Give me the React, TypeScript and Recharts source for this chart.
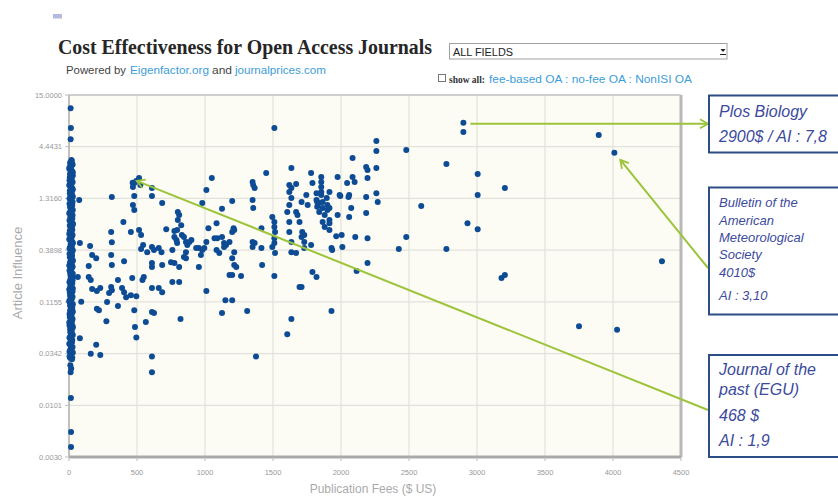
import {
  ScatterChart,
  Scatter,
  XAxis,
  YAxis,
  CartesianGrid,
  ReferenceLine,
} from 'recharts';

const SANS = '"Liberation Sans", Arial, sans-serif';
const SERIF = '"Liberation Serif", "Times New Roman", serif';
const DOT = '#0d4c94';
const ARROW = '#9cc43a';
const NOTE = '#3b4a9c';
const NOTE_BORDER = '#2d4d86';
const LINK = '#3d9dd8';

const X_TICKS = [0, 500, 1000, 1500, 2000, 2500, 3000, 3500, 4000, 4500];
const Y_TICKS = [0.003, 0.0101, 0.0342, 0.1155, 0.3898, 1.316, 4.4431, 15];

// [publication fee $, article influence] -- journals charging nothing (or nearly)
const FREE_JOURNALS: [number, number][] = [
  [12, 11.0], [14, 6.9], [12, 5.3], [18, 3.25],
  [20, 3.2], [8, 3.05], [26, 2.9], [14, 2.78], [4, 2.62], [22, 2.5], [12, 2.38], [28, 2.26],
  [6, 2.15], [18, 2.06], [24, 1.96], [10, 1.87], [2, 1.79], [20, 1.7], [28, 1.62], [14, 1.55],
  [6, 1.48], [24, 1.41], [16, 1.34], [10, 1.28], [26, 1.22], [4, 1.16], [18, 1.1], [12, 1.05],
  [28, 1.0], [8, 0.955], [20, 0.91], [14, 0.865], [24, 0.825], [4, 0.785], [16, 0.75], [28, 0.712],
  [10, 0.68], [22, 0.645], [6, 0.615], [18, 0.585], [26, 0.555], [12, 0.53], [2, 0.505], [20, 0.48],
  [28, 0.458], [14, 0.435], [8, 0.415], [24, 0.395], [16, 0.376], [4, 0.358], [22, 0.34], [12, 0.324],
  [28, 0.308], [8, 0.293], [18, 0.279], [26, 0.266], [14, 0.253], [4, 0.241], [20, 0.229], [10, 0.218],
  [28, 0.207], [16, 0.197], [6, 0.188], [24, 0.179], [12, 0.17], [20, 0.162], [2, 0.154], [26, 0.147],
  [14, 0.14], [8, 0.133], [22, 0.127], [18, 0.121], [4, 0.115], [28, 0.109], [12, 0.104], [20, 0.099],
  [8, 0.094], [24, 0.09], [16, 0.085], [6, 0.081], [26, 0.077], [12, 0.073], [20, 0.07], [4, 0.066],
  [28, 0.063], [16, 0.06], [10, 0.057], [22, 0.054], [14, 0.052], [6, 0.049], [24, 0.047], [18, 0.044],
  [10, 0.042], [26, 0.04], [14, 0.038], [4, 0.036], [20, 0.0345], [12, 0.033], [8, 0.031], [22, 0.03],
  [10, 0.026], [16, 0.024], [12, 0.022], [14, 0.012], [15, 0.0054], [15, 0.0038],
];

// more zero-fee journals; together with the list above they form the solid bar at $0
const FREE_JOURNALS_2: [number, number][] = [
  [16, 3.12], [24, 2.98], [10, 2.84], [2, 2.7], [18, 2.56], [28, 2.44], [8, 2.32], [22, 2.2],
  [14, 2.1], [4, 2.01], [26, 1.92], [16, 1.83], [10, 1.75], [24, 1.66], [6, 1.58], [20, 1.51],
  [12, 1.44], [28, 1.37], [4, 1.31], [18, 1.25], [14, 1.19], [24, 1.13], [8, 1.075], [22, 1.025],
  [16, 0.975], [2, 0.93], [26, 0.885], [10, 0.845], [20, 0.805], [12, 0.768], [28, 0.73], [6, 0.695],
  [16, 0.66], [24, 0.63], [10, 0.6], [2, 0.57], [22, 0.542], [16, 0.518], [8, 0.492], [26, 0.468],
  [12, 0.446], [20, 0.425], [4, 0.405], [28, 0.386], [14, 0.367], [22, 0.35], [6, 0.332], [18, 0.316],
  [26, 0.3], [10, 0.286], [2, 0.272], [24, 0.26], [16, 0.247], [8, 0.235], [28, 0.224], [20, 0.213],
  [12, 0.202], [26, 0.192], [4, 0.183], [18, 0.174], [10, 0.166], [28, 0.158], [22, 0.15], [6, 0.143],
  [16, 0.136], [26, 0.13], [12, 0.124], [2, 0.118], [20, 0.112], [8, 0.106], [24, 0.101], [14, 0.096],
  [28, 0.092], [4, 0.087], [18, 0.083], [10, 0.079], [22, 0.075], [2, 0.071], [16, 0.068], [26, 0.065],
  [8, 0.061], [20, 0.058], [12, 0.055], [28, 0.053], [4, 0.05], [16, 0.048], [22, 0.045], [2, 0.043],
  [12, 0.041], [20, 0.039], [8, 0.037], [28, 0.035], [16, 0.034], [4, 0.032], [24, 0.031],
];

// fee-based journals
const PAID_JOURNALS: [number, number][] = [
  [75, 1.27], [80, 0.46], [155, 0.43], [170, 0.347], [200, 0.323], [145, 0.268], [65, 0.207],
  [145, 0.207], [160, 0.193], [170, 0.156], [205, 0.149], [230, 0.16], [90, 0.116], [205, 0.098],
  [220, 0.095], [275, 0.073], [280, 0.115], [295, 0.142], [310, 0.164], [315, 0.152], [200, 0.042],
  [160, 0.034], [230, 0.033], [80, 0.049], [310, 0.596], [315, 0.47], [310, 0.347], [315, 0.274],
  [315, 1.36], [360, 0.193], [360, 0.105], [400, 0.754], [405, 0.301], [390, 0.16], [405, 0.145],
  [420, 0.129], [455, 0.135], [495, 0.132], [465, 0.202], [480, 0.095], [485, 0.064], [495, 0.05],
  [470, 1.72], [480, 1.89], [495, 1.98], [515, 2.13], [525, 1.8], [480, 1.39], [470, 1.13], [480, 1.0],
  [610, 1.68], [610, 1.39], [685, 1.18], [455, 0.596], [515, 0.625], [530, 0.555], [545, 0.439],
  [530, 0.4], [575, 0.372], [550, 0.207], [540, 0.193], [565, 0.072], [610, 0.419], [625, 0.39],
  [660, 0.409], [680, 0.372], [610, 0.288], [610, 0.262], [610, 0.16], [660, 0.16], [685, 0.145],
  [610, 0.091], [625, 0.089], [610, 0.032], [610, 0.022], [685, 0.274], [715, 0.639],
  [760, 0.39], [775, 0.61], [795, 0.625], [800, 0.79], [810, 0.889], [800, 0.954], [825, 0.702],
  [830, 0.555], [845, 0.53], [860, 0.471], [870, 0.439], [885, 0.471], [900, 0.494], [775, 0.53],
  [790, 0.494], [795, 0.46], [860, 0.372], [845, 0.331], [750, 0.294], [775, 0.288], [760, 0.184],
  [810, 0.184], [810, 0.262], [860, 0.323], [820, 0.077], [935, 0.409], [955, 0.409], [980, 0.39],
  [995, 0.409], [1010, 0.471], [1025, 0.654], [980, 1.18], [1010, 1.6], [1050, 2.13], [955, 0.262],
  [970, 0.347], [1010, 0.149],
  [1085, 0.736], [1070, 0.517], [1090, 0.517], [1125, 0.53], [1140, 0.46], [1155, 0.439], [1180, 0.471],
  [1200, 0.596], [1210, 0.654], [1125, 1.03], [1200, 1.24], [1215, 0.372], [1085, 0.39], [1105, 0.364],
  [1125, 0.089], [1150, 0.12], [1200, 0.12], [1180, 0.217], [1200, 0.217], [1265, 0.212], [1200, 0.323],
  [1215, 0.274], [1230, 0.262], [1140, 0.419], [1215, 0.625],
  [1310, 0.093], [1350, 1.94], [1355, 1.8], [1365, 1.68], [1350, 1.27], [1355, 1.05], [1350, 0.471],
  [1365, 0.46], [1350, 0.419], [1415, 0.654], [1415, 0.409], [1420, 0.274], [1450, 2.39], [1510, 6.9],
  [1495, 0.848], [1510, 0.754], [1510, 0.67], [1515, 0.596], [1510, 0.517], [1510, 0.46], [1515, 0.364],
  [1495, 0.419], [1510, 0.212], [1375, 0.032],
  [1620, 1.8], [1635, 1.68], [1620, 1.53], [1635, 2.69], [1670, 1.85], [1605, 0.954], [1620, 1.13],
  [1620, 0.754], [1620, 0.596], [1635, 0.471], [1635, 0.372], [1635, 1.33], [1670, 0.954], [1680, 0.889],
  [1695, 0.754], [1715, 0.596], [1730, 0.555], [1730, 0.471], [1710, 1.21], [1745, 1.43], [1755, 1.13],
  [1710, 0.53], [1730, 0.409], [1635, 0.077], [1670, 0.364], [1695, 0.164], [1710, 0.164], [1605, 0.054],
  [1780, 2.39], [1790, 1.89], [1855, 2.18], [1855, 1.94], [1855, 1.72], [1855, 1.53], [1855, 1.43],
  [1865, 1.21], [1865, 1.05], [1880, 0.889], [1865, 0.754], [1880, 0.67], [1820, 1.49], [1825, 1.21],
  [1840, 1.18], [1820, 1.27], [1825, 1.08], [1840, 0.954], [1895, 1.33], [1900, 1.13], [1900, 1.0],
  [1915, 1.53], [1915, 1.05], [1915, 0.79], [1915, 0.625], [1915, 0.736], [1965, 0.542], [1930, 0.409],
  [1790, 0.233], [1820, 0.207], [1780, 0.439], [1930, 0.093], [1935, 0.39], [1975, 2.18], [1975, 0.889],
  [1990, 1.43], [2005, 0.555], [2010, 0.419], [2045, 1.89], [2060, 1.43], [2075, 1.05], [2085, 3.4],
  [2085, 2.18], [2100, 1.94], [2105, 0.53], [1995, 1.39], [2055, 1.36], [2060, 0.848], [2115, 0.239],
  [2185, 2.76], [2195, 2.57], [2260, 2.69], [2195, 2.13], [2185, 1.36], [2260, 1.49], [2270, 1.21],
  [2185, 0.932], [2195, 0.517], [2195, 0.288], [2260, 5.08], [2260, 4.02], [2480, 4.11], [2775, 2.96],
  [3005, 2.34], [3005, 1.43], [3205, 1.68], [2590, 1.1], [2930, 0.736], [3005, 0.639], [2480, 0.53],
  [2425, 0.4], [2775, 0.4], [3180, 0.202], [3205, 0.217], [2900, 6.28], [3895, 5.85], [4360, 0.301],
  [3750, 0.065], [4030, 0.06],
];

// the three journals called out on the right
const PLOS = { fee: 2900, ai: 7.8 };
const BAMS = { fee: 4010, ai: 3.85 };
const PAST = { fee: 468, ai: 1.9 };

const PLOT = { left: 69, top: 95, right: 681, bottom: 457 };

const xPx = (fee: number) => PLOT.left + (fee / 4500) * (PLOT.right - PLOT.left);
const yPx = (ai: number) =>
  PLOT.top + (Math.log(15 / ai) / Math.log(15 / 0.003)) * (PLOT.bottom - PLOT.top);

const toPoints = (rows: [number, number][]) => rows.map(([fee, ai]) => ({ fee, ai }));

const renderDot = (props: any) => <circle cx={props.cx} cy={props.cy} r={3} fill={DOT} />;

function NoteBox({ x, y, h, lines, size, gap, first }: {
  x: number; y: number; h: number; lines: string[]; size: number; gap: number[]; first: number;
}) {
  return (
    <g>
      <rect x={x} y={y} width={150} height={h} fill="#fff" stroke={NOTE_BORDER} strokeWidth={2} />
      {lines.map((l, i) => (
        <text key={i} x={x + 10} y={y + first + (gap[i] || 0)} fontSize={size}
          fontStyle="italic" fill={NOTE} fontFamily={SANS}>
          {l}
        </text>
      ))}
    </g>
  );
}

export default function App() {
  const plosX = xPx(PLOS.fee), plosY = yPx(PLOS.ai);
  const bamsX = xPx(BAMS.fee), bamsY = yPx(BAMS.ai);
  const pastX = xPx(PAST.fee), pastY = yPx(PAST.ai);

  return (
    <div style={{ position: 'absolute', left: 0, top: 0, width: 838, height: 498, background: '#fff', overflow: 'hidden', fontFamily: SANS }}>
      <ScatterChart width={838} height={498} margin={{ top: 95, right: 157, bottom: 11, left: 9 }}>
        <CartesianGrid fill="#fdfcf4" stroke="#e2e2dc" strokeWidth={1.2} />
        <XAxis
          type="number"
          dataKey="fee"
          domain={[0, 4500]}
          ticks={X_TICKS}
          interval={0}
          height={30}
          tick={{ fontSize: 7.5, fill: '#999' }}
          tickSize={4}
          tickMargin={9}
          tickLine={{ stroke: '#bbb' }}
          axisLine={{ stroke: '#a9a9a9', strokeWidth: 3 }}
        />
        <YAxis
          type="number"
          dataKey="ai"
          scale="log"
          domain={[0.003, 15]}
          ticks={Y_TICKS}
          interval={0}
          width={60}
          tickFormatter={(v: number) => v.toFixed(4)}
          tick={{ fontSize: 7.5, fill: '#999' }}
          tickSize={4}
          tickMargin={3}
          tickLine={{ stroke: '#bbb' }}
          axisLine={{ stroke: '#b0b0b0', strokeWidth: 1.5 }}
        />
        <ReferenceLine x={4500} stroke="#b8b8b8" strokeWidth={3} />
        <ReferenceLine y={15} stroke="#c4c4c4" strokeWidth={1.5} />
        <Scatter data={toPoints(FREE_JOURNALS)} shape={renderDot} isAnimationActive={false} />
        <Scatter data={toPoints(FREE_JOURNALS_2)} shape={renderDot} isAnimationActive={false} />
        <Scatter data={toPoints(PAID_JOURNALS)} shape={renderDot} isAnimationActive={false} />
        <Scatter data={[PLOS, BAMS, PAST]} shape={renderDot} isAnimationActive={false} />
      </ScatterChart>

      <svg width={838} height={498} style={{ position: 'absolute', left: 0, top: 0, pointerEvents: 'none' }}>
        <defs>
          <marker id="openHead" markerUnits="userSpaceOnUse" markerWidth={12} markerHeight={12}
            refX={10} refY={6} orient="auto">
            <path d="M2,1.5 L10,6 L2,10.5" fill="none" stroke={ARROW} strokeWidth={1.8} />
          </marker>
        </defs>

        <rect x={53} y={14} width={9} height={4.5} fill="#b3bbe0" />

        <text x={58} y={54} fontFamily={SERIF} fontWeight="bold" fontSize={20} fill="#262626"
          textLength={374} lengthAdjust="spacingAndGlyphs">
          Cost Effectiveness for Open Access Journals
        </text>
        <text x={66} y={74} fontSize={11} fill="#444" textLength={60} lengthAdjust="spacingAndGlyphs">Powered by</text>
        <text x={130} y={74} fontSize={11} fill={LINK} textLength={79} lengthAdjust="spacingAndGlyphs">Eigenfactor.org</text>
        <text x={212} y={74} fontSize={11} fill="#444" textLength={20} lengthAdjust="spacingAndGlyphs">and</text>
        <text x={235} y={74} fontSize={11} fill={LINK} textLength={91} lengthAdjust="spacingAndGlyphs">journalprices.com</text>

        <rect x={449.5} y={43.5} width={277.5} height={15.5} fill="#fff" stroke="#a0a0a0" />
        <text x={453} y={55.5} fontSize={10} fill="#222" textLength={60} lengthAdjust="spacingAndGlyphs">ALL FIELDS</text>
        <path d="M720.5,49 L725.5,49 L723,52 Z" fill="#222" />
        <line x1={720} y1={54.5} x2={726} y2={54.5} stroke="#222" strokeWidth={1} />

        <rect x={438.5} y={74.5} width={7} height={7} fill="#fff" stroke="#777" />
        <text x={449} y={82.5} fontFamily={SERIF} fontWeight="bold" fontSize={10} fill="#333"
          textLength={36} lengthAdjust="spacingAndGlyphs">show all:</text>
        <text x={489} y={83} fontSize={10.5} fill={LINK} textLength={203} lengthAdjust="spacingAndGlyphs">
          fee-based OA : no-fee OA : NonISI OA
        </text>

        <text x={17} y={273} fontSize={13} fill="#aaa" textAnchor="middle" dominantBaseline="central"
          transform="rotate(-90 17 273)">Article Influence</text>
        <text x={373} y={493} fontSize={12} fill="#aaa" textAnchor="middle">Publication Fees ($ US)</text>

        <line x1={plosX + 7} y1={plosY + 1} x2={708} y2={plosY + 1} stroke={ARROW} strokeWidth={2} markerEnd="url(#openHead)" />
        <line x1={708} y1={268} x2={bamsX + 6} y2={bamsY + 7} stroke={ARROW} strokeWidth={2} markerEnd="url(#openHead)" />
        <line x1={708} y1={410} x2={pastX + 4} y2={pastY - 2} stroke={ARROW} strokeWidth={2} markerEnd="url(#openHead)" />

        <NoteBox x={709} y={95.5} h={57} size={16} first={21.5} gap={[0, 25]}
          lines={['Plos Biology', '2900$ / AI : 7,8']} />
        <NoteBox x={709} y={187.5} h={127} size={13} first={19.5} gap={[0, 17.5, 35, 52, 69.5, 93]}
          lines={['Bulletin of the', 'American', 'Meteorological', 'Society', '4010$', 'AI : 3,10']} />
        <NoteBox x={709} y={355} h={102} size={16} first={20} gap={[0, 20, 46, 71]}
          lines={['Journal of the', 'past (EGU)', '468 $', 'AI : 1,9']} />
      </svg>
    </div>
  );
}
